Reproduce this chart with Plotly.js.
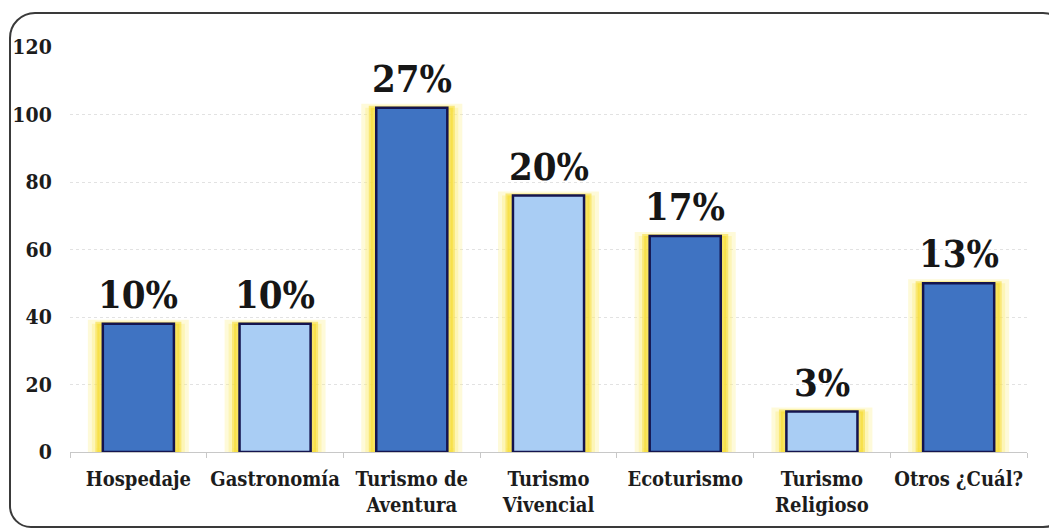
<!DOCTYPE html>
<html>
<head>
<meta charset="utf-8">
<script src="https://cdn.plot.ly/plotly-3.0.1.min.js"></script>
<style>
html,body{margin:0;padding:0;background:#fff;overflow:hidden;}
#frame{position:absolute;left:9px;top:12px;width:1060px;height:516px;border:2px solid #3a3a3a;border-radius:26px 26px 26px 22px;box-sizing:border-box;}
#chart{position:absolute;left:0;top:0;width:1049px;height:529px;}
</style>
</head>
<body>
<div id="frame"></div>
<div id="chart"></div>
<script>
const categories = ["Hospedaje", "Gastronomía", "Turismo de<br>Aventura", "Turismo<br>Vivencial", "Ecoturismo", "Turismo<br>Religioso", "Otros ¿Cuál?"];
const values = [38, 38, 102, 76, 64, 12, 50];
const percentLabels = ["10%", "10%", "27%", "20%", "17%", "3%", "13%"];
const barColors = ["#3f73c2", "#a9cdf4", "#3f73c2", "#a9cdf4", "#3f73c2", "#a9cdf4", "#3f73c2"];
const yTicks = [0, 20, 40, 60, 80, 100, 120];

const SERIF = 'DejaVu Serif Condensed, DejaVu Serif';

const glowOuter = {
  type: 'bar', x: categories, y: values, width: 0.68,
  marker: {color: 'rgba(252,238,130,0.4)', line: {color: 'rgba(252,238,130,0.3)', width: 8}},
  hoverinfo: 'skip', showlegend: false
};
const glowInner = {
  type: 'bar', x: categories, y: values, width: 0.6,
  marker: {color: 'rgba(246,222,60,0.75)', line: {color: 'rgba(246,222,60,0.6)', width: 4}},
  hoverinfo: 'skip', showlegend: false
};
const bars = {
  type: 'bar', x: categories, y: values, width: 0.52,
  marker: {color: barColors, line: {color: '#14144e', width: 2.5}},
  showlegend: false
};

const annotations = categories.map((c, i) => ({
  x: c, y: values[i], xref: 'x', yref: 'y', text: '<b>' + percentLabels[i] + '</b>',
  showarrow: false, yanchor: 'bottom', yshift: 5,
  font: {family: SERIF, size: 38, color: '#161616'}
}));

const layout = {
  width: 1049, height: 529,
  margin: {l: 70, r: 22, t: 47, b: 77},
  paper_bgcolor: 'rgba(0,0,0,0)', plot_bgcolor: 'rgba(0,0,0,0)',
  barmode: 'overlay',
  font: {family: SERIF},
  xaxis: {
    showline: true, linecolor: '#c8c8c8', linewidth: 1,
    ticks: 'outside', tickson: 'boundaries', ticklen: 5, tickcolor: '#c8c8c8',
    ticklabelstandoff: 9, tickangle: 0,
    tickvals: categories,
    ticktext: categories.map(c => '<b>' + c + '</b>'),
    tickfont: {family: SERIF, size: 20, color: '#1c1c1c'},
    showgrid: false, fixedrange: true
  },
  yaxis: {
    range: [0, 120], tickvals: yTicks, ticktext: yTicks.map(v => '<b>' + v + '</b>'),
    showgrid: true, gridcolor: '#e2e2e2', gridwidth: 1, griddash: 'dot',
    zeroline: false, showline: false,
    ticks: 'outside', ticklen: 13, tickcolor: 'rgba(0,0,0,0)',
    tickfont: {family: SERIF, size: 21, color: '#1c1c1c'},
    fixedrange: true
  },
  annotations: annotations
};

Plotly.newPlot('chart', [glowOuter, glowInner, bars], layout, {displayModeBar: false, staticPlot: true});
</script>
</body>
</html>
